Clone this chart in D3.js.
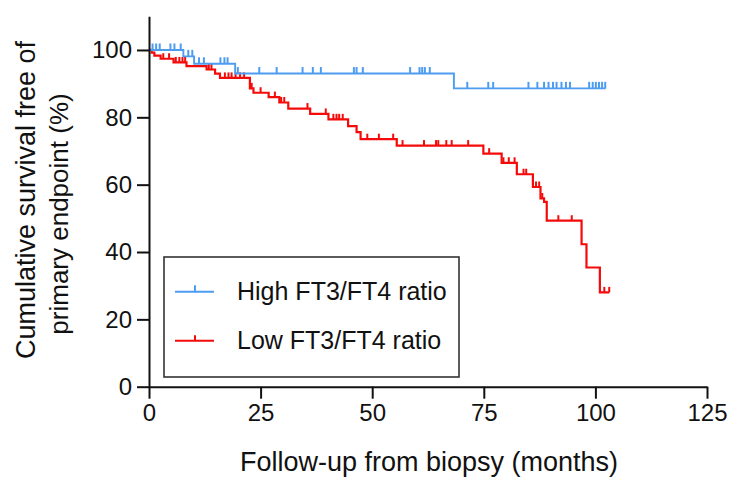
<!DOCTYPE html>
<html>
<head>
<meta charset="utf-8">
<script src="https://cdn.jsdelivr.net/npm/d3@7/dist/d3.min.js"></script>
<style>
  html, body { margin: 0; padding: 0; background: #fff; }
  svg text { font-family: "Liberation Sans", Arial, sans-serif; }
</style>
</head>
<body>
<svg id="chart" width="731" height="477"></svg>
<script>
// ---- data ----
const xTickValues = [0, 25, 50, 75, 100, 125];
const yTickValues = [0, 20, 40, 60, 80, 100];

const seriesNames = ["High FT3/FT4 ratio", "Low FT3/FT4 ratio"];

// High FT3/FT4 ratio group
const highEventTimes = [7.7, 10.1, 19.3, 68.3];
const highSurvival   = [98.1, 95.9, 93.0, 88.6];
const highCensor = [0.8, 1.6, 2.4, 4.8, 5.7, 7.1, 8.8, 9.7, 11.2, 12.3, 16.0, 16.9, 17.6,
  19.9, 24.7, 28.6, 34.4, 36.7, 38.5, 45.9, 46.5, 47.9, 58.5, 60.6, 61.2, 61.8, 62.9,
  71.3, 76.0, 77.1, 85.0, 87.0, 88.5, 89.5, 90.5, 91.3, 92.4, 93.4, 94.3,
  98.6, 99.4, 100.1, 100.8, 101.5, 102.2];
const highEnd = 102.3;

// Low FT3/FT4 ratio group
const lowEventTimes = [0.6, 1.2, 2.6, 5.5, 8.4, 12.9, 14.8, 15.9, 22.6, 23.4, 26.8, 29.2,
  31.2, 36.1, 40.2, 44.6, 46.5, 47.4, 55.5, 74.9, 79.0, 82.4, 86.0, 87.7, 88.5, 89.1,
  96.9, 98.0, 101.0];
const lowSurvival = [99.2, 98.3, 97.4, 96.3, 95.2, 94.2, 93.0, 91.7, 88.6, 87.3, 86.0, 84.4,
  82.6, 81.0, 79.4, 77.4, 75.6, 73.5, 71.6, 69.2, 66.5, 63.1, 59.3, 55.9, 54.9, 49.3,
  42.3, 35.4, 28.0];
const lowCensor = [3.2, 4.5, 6.0, 6.8, 7.5, 8.1, 13.4, 14.0, 17.0, 17.8, 18.5, 19.4, 20.4,
  21.3, 23.0, 25.0, 28.2, 29.6, 30.3, 35.5, 39.6, 41.3, 42.0, 42.6, 43.4, 48.9, 51.5,
  54.7, 56.8, 61.6, 64.3, 64.8, 66.6, 67.8, 71.5, 76.2, 79.4, 80.6, 81.9, 83.9, 84.5,
  86.7, 87.4, 88.1, 91.7, 94.7, 102.0, 103.1];
const lowEnd = 103.1;

// ---- drawing ----
const svg = d3.select("#chart");
const x = d3.scaleLinear().domain([0, 125]).range([149, 707]);
const y = d3.scaleLinear().domain([0, 110]).range([386.7, 16.3]);

const BLUE = "#4d9cf0", RED = "#f50a0a";

function stepPoints(times, surv, end) {
  const pts = [[0, 100]];
  times.forEach((t, i) => pts.push([t, surv[i]]));
  pts.push([end, surv[surv.length - 1]]);
  return pts;
}
function survAt(times, surv, t) {
  let s = 100;
  for (let i = 0; i < times.length; i++) if (times[i] <= t) s = surv[i];
  return s;
}

const line = d3.line().x(d => x(d[0])).y(d => y(d[1])).curve(d3.curveStepAfter);

const series = [
  { name: seriesNames[0], times: highEventTimes, surv: highSurvival, censor: highCensor, end: highEnd, color: BLUE, w: 1.9, tick: 6.5 },
  { name: seriesNames[1], times: lowEventTimes, surv: lowSurvival, censor: lowCensor, end: lowEnd, color: RED, w: 2.2, tick: 5.5 }
];

[series[1], series[0]].forEach(s => {
  const g = svg.append("g");
  g.append("path")
    .attr("d", line(stepPoints(s.times, s.surv, s.end)))
    .attr("fill", "none").attr("stroke", s.color).attr("stroke-width", s.w)
    .attr("stroke-linejoin", "miter");
  g.selectAll("line.c").data(s.censor).enter().append("line")
    .attr("x1", d => x(d)).attr("x2", d => x(d))
    .attr("y1", d => y(survAt(s.times, s.surv, d)))
    .attr("y2", d => y(survAt(s.times, s.surv, d)) - s.tick)
    .attr("stroke", s.color).attr("stroke-width", 2);
});

// axes
const xAxis = svg.append("g").attr("transform", `translate(0,${y(0)})`)
  .call(d3.axisBottom(x).tickValues(xTickValues).tickSize(12).tickSizeOuter(0).tickPadding(5));
const yAxis = svg.append("g").attr("transform", `translate(${x(0)},0)`)
  .call(d3.axisLeft(y).tickValues(yTickValues).tickSize(12).tickSizeOuter(0).tickPadding(5));
[xAxis, yAxis].forEach(a => {
  a.selectAll("path.domain").attr("stroke", "#111").attr("stroke-width", 2);
  a.selectAll(".tick line").attr("stroke", "#111").attr("stroke-width", 2);
  a.selectAll(".tick text").attr("fill", "#111").style("font-size", "24px")
    .style("font-family", '"Liberation Sans", Arial, sans-serif');
});

// axis titles
svg.append("text").attr("x", 429).attr("y", 471).attr("text-anchor", "middle")
  .style("font-size", "27px").attr("fill", "#111").text("Follow-up from biopsy (months)");
svg.append("text").attr("transform", "translate(35,200) rotate(-90)")
  .attr("text-anchor", "middle").style("font-size", "27px").attr("fill", "#111")
  .text("Cumulative survival free of");
svg.append("text").attr("transform", "translate(68,214) rotate(-90)")
  .attr("text-anchor", "middle").style("font-size", "26px").attr("fill", "#111")
  .text("primary endpoint (%)");

// legend
const lg = svg.append("g");
lg.append("rect").attr("x", 164).attr("y", 257).attr("width", 295).attr("height", 120)
  .attr("fill", "#fff").attr("stroke", "#333").attr("stroke-width", 1.6);
series.forEach((s, i) => {
  const ly = 291.7 + i * 49;
  lg.append("line").attr("x1", 175).attr("x2", 214).attr("y1", ly).attr("y2", ly)
    .attr("stroke", s.color).attr("stroke-width", 2);
  lg.append("line").attr("x1", 195).attr("x2", 195).attr("y1", ly).attr("y2", ly - s.tick)
    .attr("stroke", s.color).attr("stroke-width", 2);
  lg.append("text").attr("x", 237).attr("y", ly + 8.5).style("font-size", "25px")
    .attr("fill", "#111").text(s.name);
});
</script>
</body>
</html>
